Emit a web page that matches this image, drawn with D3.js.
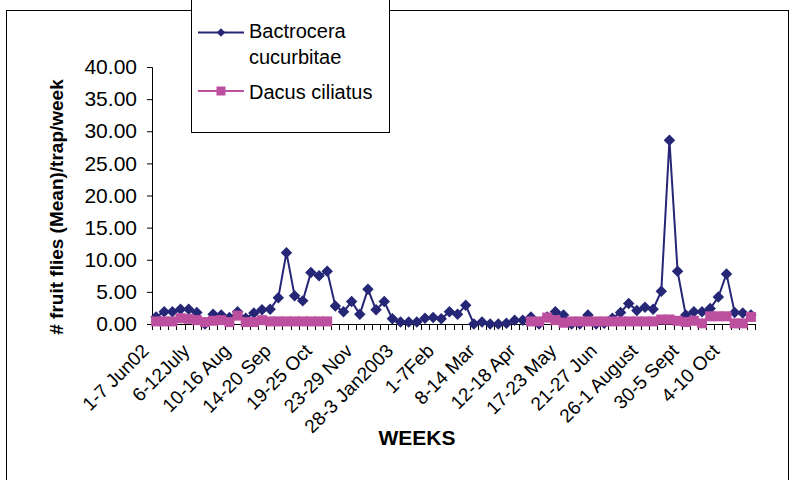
<!DOCTYPE html>
<html>
<head>
<meta charset="utf-8">
<script src="https://cdn.jsdelivr.net/npm/d3@7"></script>
<style>
  html, body { margin: 0; padding: 0; background: #fff; }
  svg { display: block; font-family: "Liberation Sans", Arial, sans-serif; }
</style>
</head>
<body>
<svg id="chart" width="795" height="480"></svg>
<script>
// ---- data ----
const tickLabels = ["1-7 Jun02", "6-12July", "10-16 Aug", "14-20 Sep", "19-25 Oct",
  "23-29 Nov", "28-3 Jan2003", "1-7Feb", "8-14 Mar", "12-18 Apr", "17-23 May",
  "21-27 Jun", "26-1 August", "30-5 Sept", "4-10 Oct"];
const labelEvery = 5;
const weeks = d3.range(74); // weekly categories, June 2002 - Oct 2003

const bactrocera = [1.1, 1.9, 1.9, 2.3, 2.3, 1.8, 0.0, 1.5, 1.4, 1.0,
  1.9, 0.9, 1.7, 2.2, 2.3, 4.1, 11.1, 4.4, 3.6, 8.0,
  7.5, 8.2, 2.8, 1.9, 3.5, 1.5, 5.4, 2.2, 3.5, 0.8,
  0.3, 0.3, 0.3, 0.9, 1.0, 0.8, 1.9, 1.5, 2.9, 0.0,
  0.3, 0.0, 0.0, 0.1, 0.6, 0.6, 1.1, 0.0, 1.1, 1.9,
  1.4, 0.0, 0.0, 1.4, 0.0, 0.1, 0.9, 1.8, 3.2, 2.1,
  2.6, 2.3, 5.1, 28.6, 8.2, 1.4, 1.9, 1.9, 2.4, 4.2,
  7.8, 1.8, 1.7, 1.4];

const dacus = [0.4, 0.4, 0.4, 0.9, 0.8, 0.6, 0.3, 0.5, 0.6, 0.3,
  1.3, 0.3, 0.3, 0.6, 0.4, 0.4, 0.4, 0.4, 0.4, 0.4,
  0.4, 0.4, null, null, null, null, null, null, null, null,
  null, null, null, null, null, null, null, null, null, null,
  null, null, null, null, null, null, 0.4, 0.4, 1.0, 0.6,
  0.2, 0.4, 0.4, 0.4, 0.4, 0.4, 0.4, 0.4, 0.4, 0.4,
  0.4, 0.4, 0.7, 0.7, 0.5, 0.3, 0.5, 0.1, 1.2, 1.2,
  1.2, 0.1, 0.1, 1.1];

const yTicks = [0, 5, 10, 15, 20, 25, 30, 35, 40];

const seriesNames = ["Bactrocera cucurbitae", "Dacus ciliatus"];
const blue = "#262676";
const pink = "#BD4F9F";

// ---- layout ----
const svg = d3.select("#chart");
const pLeft = 152, pRight = 755, pTop = 67, pBottom = 324;

const x = d3.scaleBand().domain(weeks).range([pLeft, pRight]).padding(0);
const y = d3.scaleLinear().domain([0, 40]).range([pBottom, pTop]);
const cx = i => x(i) + x.bandwidth() / 2;

// outer chart border
svg.append("rect").attr("x", 6.5).attr("y", 10.5).attr("width", 782).attr("height", 480)
  .attr("fill", "none").attr("stroke", "#000").attr("stroke-width", 1);

// y axis
const yAxis = d3.axisLeft(y).tickValues(yTicks).tickFormat(d3.format(".2f")).tickSize(5).tickPadding(10);
const gy = svg.append("g").attr("transform", `translate(${pLeft},0)`).call(yAxis);
gy.select(".domain").attr("stroke", "#000");
gy.selectAll(".tick line").attr("stroke", "#000");
gy.selectAll(".tick text").attr("font-size", 21).attr("fill", "#000")
  .attr("font-family", "Liberation Sans, Arial, sans-serif");

// x axis line + boundary ticks
const gx = svg.append("g");
gx.append("line").attr("x1", pLeft).attr("x2", pRight).attr("y1", pBottom + 0.5).attr("y2", pBottom + 0.5)
  .attr("stroke", "#000");
const bounds = weeks.map(d => x(d)).concat([x.range()[1]]);
gx.selectAll("line.tk").data(bounds).join("line").attr("class", "tk")
  .attr("x1", d => Math.round(d) + 0.5).attr("x2", d => Math.round(d) + 0.5)
  .attr("y1", pBottom).attr("y2", pBottom + 6).attr("stroke", "#000");

// x tick labels, every 5th week, rotated
gx.selectAll("text.lab").data(tickLabels).join("text").attr("class", "lab")
  .attr("transform", (d, i) => `translate(${cx(i * labelEvery) - 6},${pBottom + 28}) rotate(-45)`)
  .attr("text-anchor", "end").attr("font-size", 19).attr("fill", "#000").text(d => d);

// series
const lineGen = d3.line().defined(d => d.v != null).x(d => cx(d.i)).y(d => y(d.v));
const bData = bactrocera.map((v, i) => ({ i: weeks[i], v }));
const dData = dacus.map((v, i) => ({ i: weeks[i], v }));

svg.append("path").datum(bData).attr("d", lineGen).attr("fill", "none")
  .attr("stroke", blue).attr("stroke-width", 2);
svg.append("g").selectAll("path").data(bData).join("path")
  .attr("transform", d => `translate(${cx(d.i)},${y(d.v)}) rotate(45)`)
  .attr("d", d3.symbol().type(d3.symbolSquare).size(66)).attr("fill", blue);

svg.append("path").datum(dData).attr("d", lineGen).attr("fill", "none")
  .attr("stroke", pink).attr("stroke-width", 2);
svg.append("g").selectAll("rect").data(dData.filter(d => d.v != null)).join("rect")
  .attr("x", d => cx(d.i) - 5).attr("y", d => y(d.v) - 5)
  .attr("width", 10).attr("height", 10).attr("fill", pink);

// axis titles
svg.append("text").attr("x", 417).attr("y", 445).attr("text-anchor", "middle")
  .attr("font-size", 21).attr("font-weight", "bold").text("WEEKS");
svg.append("text").attr("transform", "translate(63,207) rotate(-90)").attr("text-anchor", "middle")
  .attr("font-size", 19).attr("font-weight", "bold").text("#  fruit flies (Mean)/trap/week");

// legend
const lg = svg.append("g");
lg.append("rect").attr("x", 191.5).attr("y", -5).attr("width", 198).attr("height", 137.5)
  .attr("fill", "#fff").attr("stroke", "#000");
lg.append("line").attr("x1", 198).attr("x2", 244).attr("y1", 32.5).attr("y2", 32.5)
  .attr("stroke", blue).attr("stroke-width", 2);
lg.append("path").attr("transform", "translate(221,32.5) rotate(45)")
  .attr("d", d3.symbol().type(d3.symbolSquare).size(36)).attr("fill", blue);
lg.append("text").attr("x", 249).attr("y", 38).attr("font-size", 20).text("Bactrocera");
lg.append("text").attr("x", 249).attr("y", 64).attr("font-size", 20).text("cucurbitae");
lg.append("line").attr("x1", 198).attr("x2", 244).attr("y1", 91).attr("y2", 91)
  .attr("stroke", pink).attr("stroke-width", 2);
lg.append("rect").attr("x", 216.5).attr("y", 86.5).attr("width", 9).attr("height", 9).attr("fill", pink);
lg.append("text").attr("x", 249).attr("y", 99).attr("font-size", 20).text("Dacus ciliatus");
</script>
</body>
</html>
